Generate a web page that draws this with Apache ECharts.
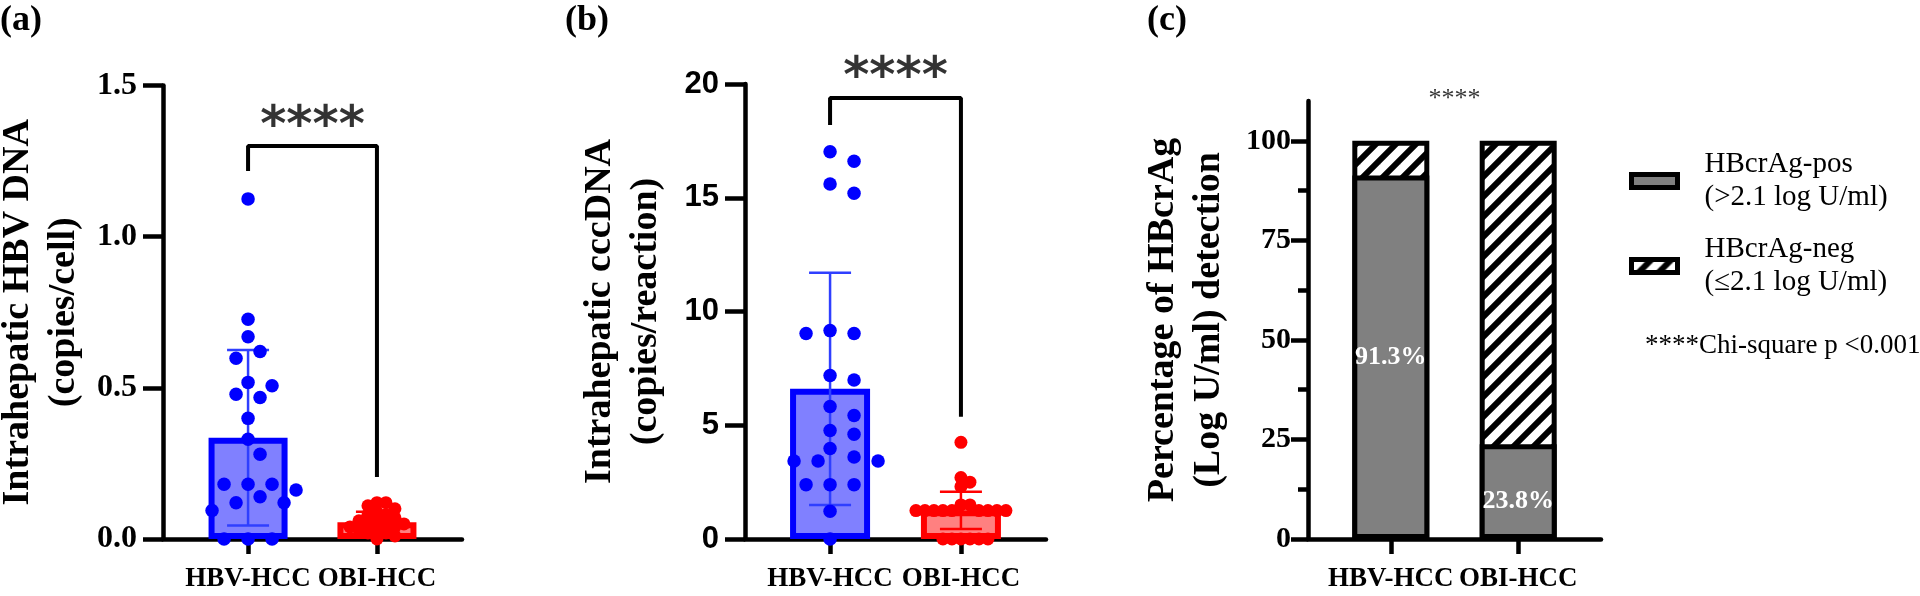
<!DOCTYPE html>
<html>
<head>
<meta charset="utf-8">
<script src="https://cdn.jsdelivr.net/npm/echarts@6.0.0/dist/echarts.min.js"></script>
<style>
  html, body { margin: 0; padding: 0; background: #fff; }
  #main { width: 1920px; height: 596px; }
</style>
</head>
<body>
<div id="main"></div>
<script>
// groups on every panel
var groups = ['HBV-HCC', 'OBI-HCC'];

// (a) intrahepatic HBV DNA, copies/cell
var dnaHBV = [1.125, 0.727, 0.669, 0.62, 0.598, 0.518, 0.507, 0.479, 0.468, 0.399, 0.33, 0.28,
              0.181, 0.181, 0.181, 0.162, 0.14, 0.12, 0.12, 0.094, 0, 0, 0];
var dnaOBI = [0.12, 0.12, 0.11, 0.10, 0.09, 0.08, 0.08, 0.07, 0.06, 0.06, 0.05,
              0.05, 0.05, 0.04, 0.04, 0.03, 0.03, 0.02, 0.02, 0.01, 0];
var dnaMean = [0.335, 0.055];
var dnaSD = [0.29, 0.035];
var dnaTicks = [0, 0.5, 1.0, 1.5];
var dnaBracket = [1.217, 1.30, 0.205];   // left leg end, top, right leg end
var dnaStars = 1.36;

// (b) intrahepatic cccDNA, copies/reaction
var cccHBV = [17.02, 16.6, 15.6, 15.2, 9.16, 9.03, 9.03, 7.19, 6.99, 5.82, 5.43, 4.77,
              4.6, 3.98, 3.6, 3.43, 3.43, 3.43, 2.39, 2.39, 2.39, 1.22, 0];
var cccOBI = [4.25, 2.7, 2.5, 2.3, 1.5, 1.5, 1.25, 1.25, 1.25, 1.25, 1.25,
              1.25, 1.25, 1.25, 1.25, 0, 0, 0, 0, 0, 0];
var cccMean = [6.6, 1.26];
var cccSD = [5.1, 0.82];
var cccTicks = [0, 5, 10, 15, 20];
var cccBracket = [18.2, 19.38, 5.37];
var cccStars = 20.2;

// (c) HBcrAg detection, percent
var posPct = [91.3, 23.8];
var negPct = [8.7, 76.2];
var pctTicks = [0, 25, 50, 75, 100];
var pctMinor = [12.5, 37.5, 62.5, 87.5];
var pctStars = 110.5;
var posName = 'HBcrAg-pos\n(>2.1 log U/ml)';
var negName = 'HBcrAg-neg\n(\u22642.1 log U/ml)';

var SERIF = "'Liberation Serif', 'Times New Roman', serif";
var SANS = "'Liberation Sans', Arial, sans-serif";

var G = {
    a: {left: 163, top: 85.5, width: 299, height: 453.5, xMin: 0.34, xMax: 2.66, yMax: 1.5},
    b: {left: 745, top: 84, width: 301, height: 455, xMin: 0.35, xMax: 2.65, yMax: 20},
    c: {left: 1308, top: 101, width: 293, height: 438, xMin: 0.35, xMax: 2.65, yMax: 110}
};

// simple beeswarm so dots at similar values sit side by side
function swarm(vals, xc, g, minD, step) {
    var pxX = g.width / (g.xMax - g.xMin);
    var pxY = g.height / g.yMax;
    var placed = [], out = [];
    vals.forEach(function (v) {
        for (var k = 0; k < 80; k++) {
            var off = (k % 2 ? 1 : -1) * Math.ceil(k / 2) * step;
            var ok = true;
            for (var i = 0; i < placed.length; i++) {
                var dx = off - placed[i][0], dy = (v - placed[i][1]) * pxY;
                if (dx * dx + dy * dy < minD * minD) { ok = false; break; }
            }
            if (ok) { placed.push([off, v]); out.push([xc + off / pxX, v]); break; }
        }
    });
    return out;
}

function hatch() {
    var s = 20, c = document.createElement('canvas');
    c.width = s; c.height = s;
    var ctx = c.getContext('2d');
    ctx.fillStyle = '#fff';
    ctx.fillRect(0, 0, s, s);
    ctx.strokeStyle = '#000';
    ctx.lineWidth = 6;
    [0, s, 2 * s].forEach(function (k) {
        ctx.beginPath();
        ctx.moveTo(k - 2 * s, 2 * s);
        ctx.lineTo(k + 2 * s, -2 * s);
        ctx.stroke();
    });
    return c;
}

function catLabel(values) {
    return {
        customValues: values, margin: 27, color: '#000', hideOverlap: false,
        showMinLabel: true, showMaxLabel: true,
        fontFamily: SERIF, fontWeight: 'bold', fontSize: 27,
        formatter: function (v) { return groups[Math.round(v) - 1]; }
    };
}

function xAxisOf(idx, g, labelValues) {
    return {
        type: 'value', gridIndex: idx, min: g.xMin, max: g.xMax,
        splitLine: {show: false},
        axisLine: {show: true, onZero: false, lineStyle: {color: '#000', width: 4.5}},
        axisTick: {show: true, customValues: [1, 2], length: 15, lineStyle: {color: '#000', width: 4.5}},
        axisLabel: catLabel(labelValues)
    };
}

function yAxisOf(idx, g, ticks, name, labelFont, labelSize, fmt) {
    return {
        type: 'value', gridIndex: idx, min: 0, max: g.yMax,
        name: name, nameLocation: 'middle', nameRotate: 90, nameGap: 76,
        nameTextStyle: {fontFamily: SERIF, fontWeight: 'bold', fontSize: 38, lineHeight: 46, color: '#000'},
        splitLine: {show: false},
        axisLine: {show: true, lineStyle: {color: '#000', width: 4.5}},
        axisTick: {show: true, customValues: ticks, length: 20, lineStyle: {color: '#000', width: 4.5}},
        axisLabel: {
            customValues: ticks, margin: 26, color: '#000', showMinLabel: true, showMaxLabel: true,
            fontFamily: labelFont, fontWeight: 'bold', fontSize: labelSize,
            formatter: fmt
        }
    };
}

function barSeries(idx, means, w) {
    var fill = ['#8080ff', '#ff8080'], edge = ['#0000ff', '#ff0000'];
    return {
        type: 'bar', xAxisIndex: idx, yAxisIndex: idx, barWidth: w, z: 2,
        data: means.map(function (m, i) {
            return {value: [i + 1, m], itemStyle: {color: fill[i], borderColor: edge[i], borderWidth: 6}};
        })
    };
}

function errSeries(idx, means, sds) {
    var col = ['#2f3fff', '#ff0000'];
    return {
        type: 'custom', xAxisIndex: idx, yAxisIndex: idx, z: 3,
        data: means.map(function (m, i) { return [i + 1, m - sds[i], m + sds[i]]; }),
        renderItem: function (params, api) {
            var x = api.value(0);
            var lo = api.coord([x, api.value(1)]);
            var hi = api.coord([x, api.value(2)]);
            var st = {stroke: col[params.dataIndex], lineWidth: 2.5};
            return {
                type: 'group', children: [
                    {type: 'line', shape: {x1: lo[0], y1: lo[1], x2: hi[0], y2: hi[1]}, style: st},
                    {type: 'line', shape: {x1: hi[0] - 21, y1: hi[1], x2: hi[0] + 21, y2: hi[1]}, style: st},
                    {type: 'line', shape: {x1: lo[0] - 21, y1: lo[1], x2: lo[0] + 21, y2: lo[1]}, style: st}
                ]
            };
        }
    };
}

function dotSeries(idx, pts, color, size) {
    return {
        type: 'scatter', xAxisIndex: idx, yAxisIndex: idx, z: 4, clip: false,
        symbolSize: size, itemStyle: {color: color, opacity: 1},
        data: pts
    };
}

function bracketSeries(idx, br) {
    return {
        type: 'line', xAxisIndex: idx, yAxisIndex: idx, z: 5, clip: false,
        symbol: 'none', lineStyle: {color: '#000', width: 4}, silent: true,
        data: [[1, br[0]], [1, br[1]], [2, br[1]], [2, br[2]]]
    };
}

function starSeries(idx, y, font, size, weight) {
    return {
        type: 'scatter', xAxisIndex: idx, yAxisIndex: idx, z: 5, clip: false,
        symbolSize: 1, itemStyle: {color: 'rgba(0,0,0,0)'},
        label: {show: true, position: 'inside', formatter: '****', color: '#000',
                fontFamily: font, fontSize: size, fontWeight: weight},
        data: [[1.5, y]]
    };
}

var chart = echarts.init(document.getElementById('main'), null, {renderer: 'canvas'});
var hatchImg = hatch();

var grids = ['a', 'b', 'c'].map(function (k) {
    var g = G[k];
    return {left: g.left, top: g.top, width: g.width, height: g.height, containLabel: false, outerBoundsMode: 'none'};
});
grids.push({left: G.c.left, top: G.c.top, width: G.c.width, height: G.c.height, containLabel: false, outerBoundsMode: 'none'});

var yC = yAxisOf(2, G.c, pctTicks, 'Percentage of HBcrAg\n(Log U/ml) detection', SERIF, 30, null);
yC.axisTick.length = 17;
yC.axisLabel.margin = 17;

var option = {
    animation: false,
    backgroundColor: '#fff',
    grid: grids,
    xAxis: [xAxisOf(0, G.a, [1, 2]), xAxisOf(1, G.b, [1, 2]), xAxisOf(2, G.c, [1]),
        // second label of panel (c) on an overlay axis, the bars there sit closer together
        {type: 'value', gridIndex: 3, min: G.c.xMin, max: G.c.xMax, splitLine: {show: false},
         axisLine: {show: false}, axisTick: {show: false}, axisLabel: catLabel([2])}],
    yAxis: [
        yAxisOf(0, G.a, dnaTicks, 'Intrahepatic HBV DNA\n(copies/cell)', SERIF, 32,
            function (v) { return v.toFixed(1); }),
        yAxisOf(1, G.b, cccTicks, 'Intrahepatic cccDNA\n(copies/reaction)', SANS, 31, null),
        yC,
        {type: 'value', gridIndex: 3, min: 0, max: G.c.yMax, splitLine: {show: false},
         axisLine: {show: false}, axisLabel: {show: false},
         axisTick: {show: true, customValues: pctMinor, length: 10, lineStyle: {color: '#000', width: 4.5}}}
    ],
    legend: {
        orient: 'vertical', left: 1629, top: 148, padding: 0,
        itemWidth: 46, itemHeight: 13, itemGap: 19, icon: 'rect', selectedMode: false,
        itemStyle: {borderWidth: 5, borderColor: '#000'},
        data: [posName, negName],
        textStyle: {fontFamily: SERIF, fontSize: 29, lineHeight: 33, color: '#000', padding: [0, 0, 0, 22]}
    },
    graphic: [
        {type: 'text', left: 0, top: 3, style: {text: '(a)', font: 'bold 36px ' + SERIF, fill: '#000'}},
        {type: 'text', left: 565, top: 3, style: {text: '(b)', font: 'bold 36px ' + SERIF, fill: '#000'}},
        {type: 'text', left: 1147, top: 3, style: {text: '(c)', font: 'bold 36px ' + SERIF, fill: '#000'}},
        {type: 'text', left: 1645, top: 332, style: {text: '****Chi-square p <0.001', font: '27px ' + SERIF, fill: '#000'}}
    ],
    series: [
        barSeries(0, dnaMean, 79),
        errSeries(0, dnaMean, dnaSD),
        dotSeries(0, swarm(dnaHBV, 1, G.a, 16, 12), '#0000ff', 13.5),
        dotSeries(0, swarm(dnaOBI, 2, G.a, 9, 9), '#ff0000', 13),
        bracketSeries(0, dnaBracket),
        starSeries(0, dnaStars, "'DejaVu Sans', sans-serif", 50, 'bold'),

        barSeries(1, cccMean, 80),
        errSeries(1, cccMean, cccSD),
        dotSeries(1, swarm(cccHBV, 1, G.b, 16, 12), '#0000ff', 13.5),
        dotSeries(1, swarm(cccOBI, 2, G.b, 9, 9), '#ff0000', 13),
        bracketSeries(1, cccBracket),
        starSeries(1, cccStars, "'DejaVu Sans', sans-serif", 50, 'bold'),

        // hatched part: whole column, gray part is drawn over it
        {
            name: negName, type: 'bar', xAxisIndex: 2, yAxisIndex: 2, barWidth: 77, barGap: '-100%', z: 2,
            itemStyle: {color: {image: hatchImg, repeat: 'repeat'}, borderColor: '#000', borderWidth: 5},
            data: negPct.map(function (v, i) { return [i + 1, posPct[i] + v]; })
        },
        {
            name: posName, type: 'bar', xAxisIndex: 2, yAxisIndex: 2, barWidth: 77, barGap: '-100%', z: 3,
            itemStyle: {color: '#808080', borderColor: '#000', borderWidth: 5},
            label: {show: true, position: 'inside', color: '#fff', fontFamily: SERIF, fontWeight: 'bold', fontSize: 26,
                    formatter: function (p) { return posPct[p.dataIndex].toFixed(1) + '%'; }},
            data: posPct.map(function (v, i) {
                return {value: [i + 1, v], label: {offset: [0, i === 0 ? 0 : 10]}};
            })
        },
        starSeries(2, pctStars, SERIF, 26, 'normal')
    ]
};
chart.setOption(option);
</script>
</body>
</html>
